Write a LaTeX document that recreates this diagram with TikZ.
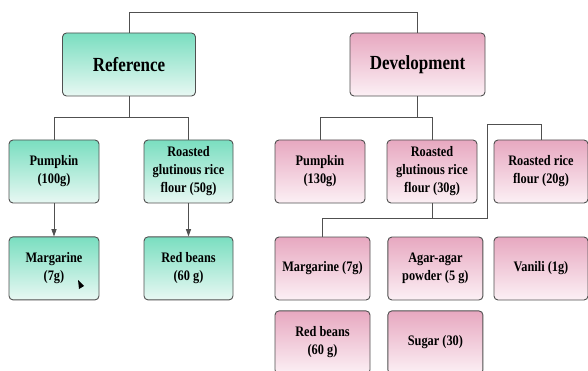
\documentclass[tikz,border=0pt]{standalone}
\usepackage{fontspec}
\setmainfont[FakeStretch=0.85]{Liberation Serif}
\usepackage{tikz}
\usetikzlibrary{arrows.meta, positioning}
\definecolor{refcol}{RGB}{122,222,192}
\definecolor{reflight}{RGB}{232,248,243}
\definecolor{devcol}{RGB}{231,168,192}
\definecolor{devlight}{RGB}{252,240,245}
\definecolor{linecol}{RGB}{80,80,80}

\begin{document}
\begin{tikzpicture}[
  x=1pt, y=-1pt,
  box/.style={draw=linecol, line width=0.9pt, rounded corners=4pt, align=center,
              minimum height=63pt, inner sep=2pt, font=\bfseries\fontsize{14.5}{18}\selectfont},
  refbox/.style={box, top color=refcol, bottom color=reflight},
  devbox/.style={box, top color=devcol, bottom color=devlight},
  headbox/.style={minimum width=133pt, font=\bfseries\fontsize{20}{24}\selectfont},
  link/.style={draw=linecol, line width=0.8pt},
  arrow/.style={link, -{Triangle[length=2.6mm, width=1.8mm]}},
]
\useasboundingbox (0,0) rectangle (588,371);
\clip (0,0) rectangle (588,371);

% reference side
\node[refbox, headbox] (ref) at (129,64.5) {Reference};
\node[refbox, minimum width=90pt] (rpump) at (54,171.5) {Pumpkin\\(100g)};
\node[refbox, minimum width=89pt] (rglut) at (188.5,171.5) {Roasted\\glutinous rice\\flour (50g)};
\node[refbox, minimum width=90pt, below=33pt of rpump] (rmarg) {Margarine\\(7g)};
\node[refbox, minimum width=89pt, below=33pt of rglut] (rbean) {Red beans\\(60 g)};

% development side
\node[devbox, headbox, minimum width=135pt] (dev) at (417.5,64.5) {Development};
\node[devbox, minimum width=90pt] (dpump) at (320,171.5) {Pumpkin\\(130g)};
\node[devbox, minimum width=90pt] (dglut) at (432,171.5) {Roasted\\glutinous rice\\flour (30g)};
\node[devbox, minimum width=94pt] (drice) at (541,171.5) {Roasted rice\\flour (20g)};
\node[devbox, minimum width=95pt] (dmarg) at (322.5,268.5) {Margarine (7g)};
\node[devbox, minimum width=95pt, right=17pt of dmarg] (dagar) {Agar-agar\\powder (5 g)};
\node[devbox, minimum width=94pt] (dvan) at (541,268.5) {Vanili (1g)};
\node[devbox, minimum width=95pt, below=10pt of dmarg] (dbean) {Red beans\\(60 g)};
\node[devbox, minimum width=95pt, below=10pt of dagar] (dsug) {Sugar (30)};

% connectors
\draw[link] (ref.north) -- ++(0,-20) -| (dev.north);
\draw[link] (ref.south) -- ++(0,21) coordinate (refsplit) -| (rpump.north);
\draw[link] (refsplit) -| (rglut.north);
\draw[link] (dev.south) -- ++(0,21) coordinate (devsplit) -| (dpump.north);
\draw[link] (devsplit) -| (dglut.north);
\coordinate (join) at (487,218);
\draw[link] (drice.north) -- ++(0,-15) -| (join) -| (dmarg.north);
\draw[link] (dglut.south) -- (dglut.south |- join);
\draw[arrow] (rpump) -- (rmarg);
\draw[arrow] (rglut) -- (rbean);

% pointer mark
\fill (78,280) -- (84,286) -- (79,289) -- cycle;
\end{tikzpicture}
\end{document}
